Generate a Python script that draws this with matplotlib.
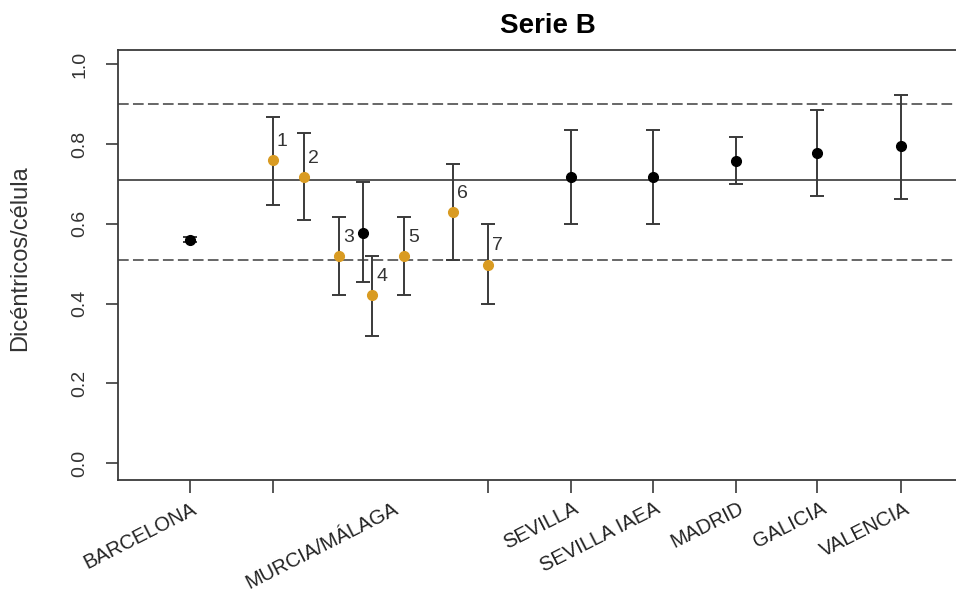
import matplotlib
matplotlib.use("Agg")
import matplotlib.pyplot as plt
import matplotlib.transforms as mtransforms

plt.rcParams['font.family'] = ['Liberation Sans', 'DejaVu Sans']

# laboratorios (puntos negros)
lab_x = [1.0, 3.09, 5.59, 6.575, 7.575, 8.558, 9.562]
lab_y = [0.56, 0.578, 0.717, 0.717, 0.758, 0.777, 0.794]
lab_lo = [0.554, 0.454, 0.60, 0.60, 0.70, 0.669, 0.663]
lab_hi = [0.566, 0.705, 0.835, 0.835, 0.817, 0.886, 0.923]

# muestras Murcia/Málaga (puntos naranjas)
mm_x = [2.0, 2.377, 2.795, 3.201, 3.582, 4.172, 4.587]
mm_y = [0.76, 0.717, 0.52, 0.421, 0.52, 0.63, 0.498]
mm_lo = [0.648, 0.609, 0.421, 0.318, 0.421, 0.51, 0.40]
mm_hi = [0.868, 0.827, 0.618, 0.52, 0.618, 0.749, 0.60]
mm_lab = ['1', '2', '3', '4', '5', '6', '7']

ref_mean = 0.71
ref_band = [0.51, 0.90]

tick_x = [1.0, 2.0, 4.587, 5.59, 6.575, 7.575, 8.558, 9.562]
cat_names = ['BARCELONA', 'MURCIA/MÁLAGA', 'SEVILLA', 'SEVILLA IAEA',
             'MADRID', 'GALICIA', 'VALENCIA']
cat_x = [1.02, 3.45, 5.62, 6.6, 7.6, 8.6, 9.6]

W, H = 956, 593
fig = plt.figure(figsize=(W / 100, H / 100), dpi=100)
ax = fig.add_axes([117.7 / W, (H - 479.5) / H, (978 - 117.7) / W, 430 / H])

line_col = '#3a3a3a'
ax.axhline(ref_mean, color='#555555', lw=1.4, zorder=1)
for yv in ref_band:
    ax.axhline(yv, color='#666666', lw=1.4, dashes=(5.5, 2.2), zorder=1)

def err(y, lo, hi):
    return [[a - b for a, b in zip(y, lo)], [c - a for a, c in zip(y, hi)]]

ax.errorbar(mm_x, mm_y, yerr=err(mm_y, mm_lo, mm_hi), fmt='o', color='#D99B22',
            ms=7, mec='#D99B22', ecolor=line_col, elinewidth=1.4, capsize=5,
            capthick=1.4, zorder=3)
ax.errorbar(lab_x, lab_y, yerr=err(lab_y, lab_lo, lab_hi), fmt='o', color='black',
            ms=7, ecolor=line_col, elinewidth=1.4, capsize=5, capthick=1.4, zorder=3)

for x, y, t in zip(mm_x, mm_y, mm_lab):
    ax.text(x + 0.05, y + 0.047, t, fontsize=14, color='#333333',
            ha='left', va='center')

ax.set_xlim(0.1325, 10.494)
ax.set_ylim(-0.0406, 1.037)
ax.set_yticks([0.0, 0.2, 0.4, 0.6, 0.8, 1.0])
ax.set_yticklabels(['0.0', '0.2', '0.4', '0.6', '0.8', '1.0'], rotation=90,
                   va='center', fontsize=14, color='#333333')
ax.set_xticks(tick_x)
ax.set_xticklabels([])
ax.tick_params(axis='both', direction='out', length=9, width=1.2, color=line_col)
ax.tick_params(axis='y', pad=12)
for s in ax.spines.values():
    s.set_color(line_col)
    s.set_linewidth(1.3)

trans = mtransforms.offset_copy(ax.get_xaxis_transform(), fig=fig, x=0, y=-14,
                                units='points')
for x, t in zip(cat_x, cat_names):
    ax.text(x, 0, t, transform=trans, rotation=27, rotation_mode='anchor',
            ha='right', va='top', fontsize=14.5, color='#222222')

ax.set_title('Serie B', fontsize=20, fontweight='bold', pad=12)
fig.text(20 / W, 1 - 258 / H, 'Dicéntricos/célula', rotation=90, ha='center',
         va='center', fontsize=17, color='#333333')

fig.savefig('out.png', dpi=100)
